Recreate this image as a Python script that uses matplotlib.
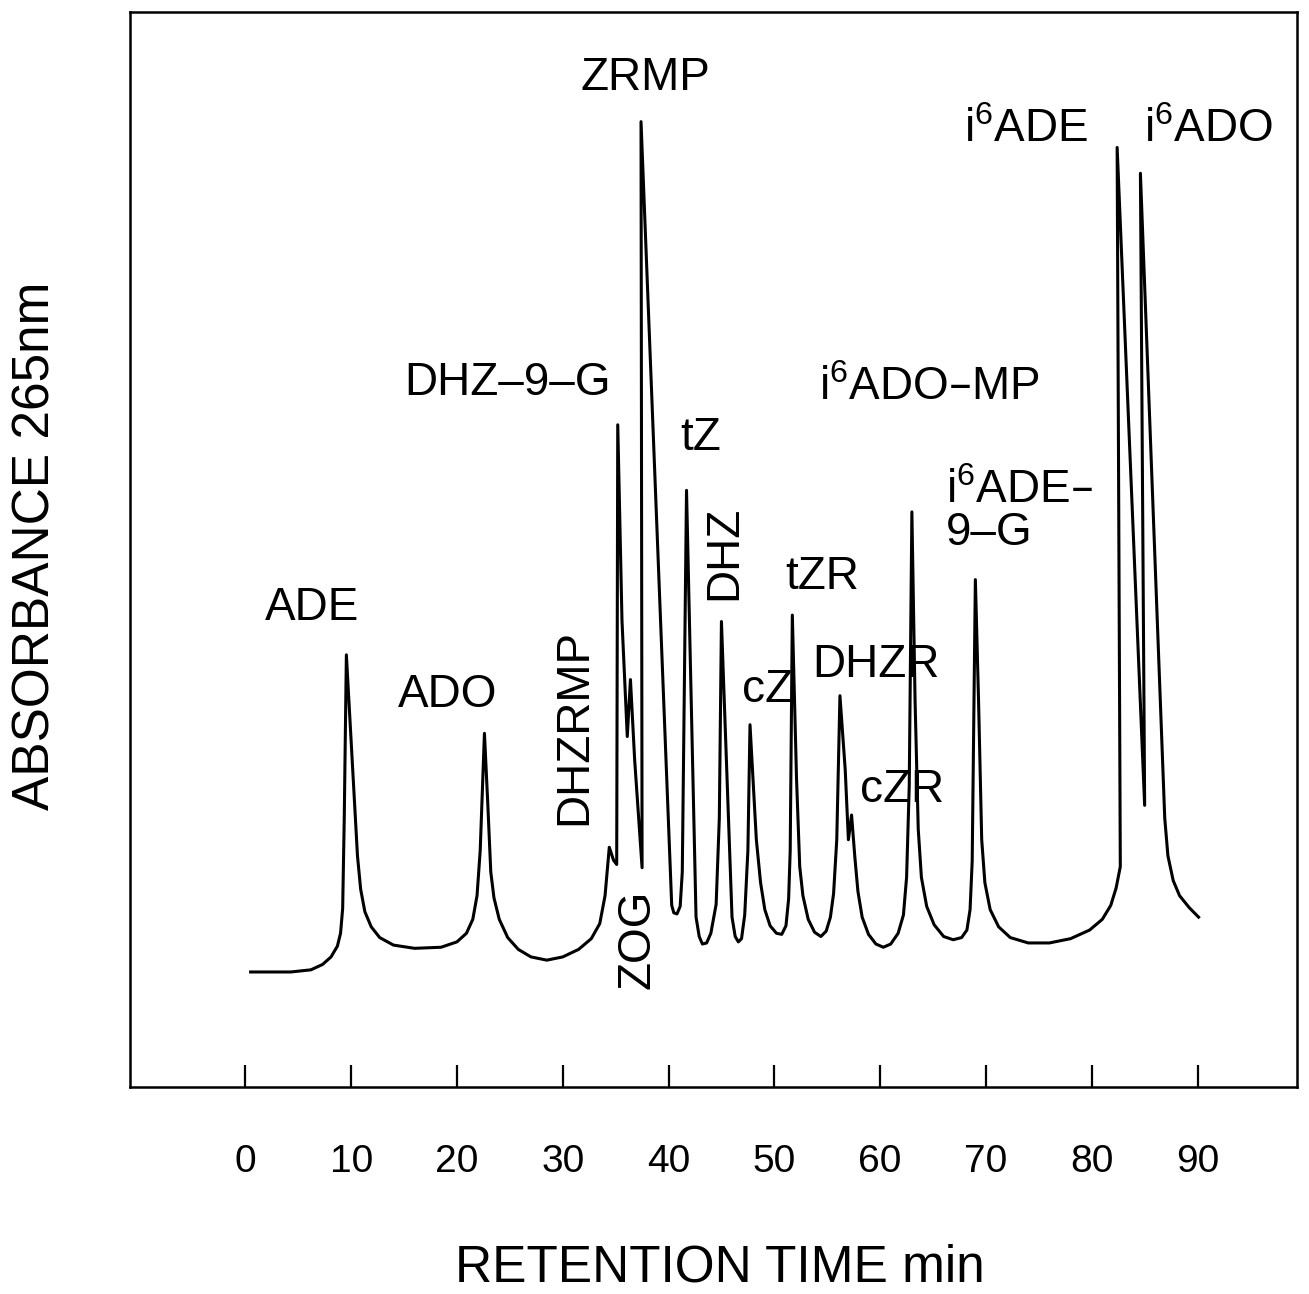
import numpy as np
import matplotlib.pyplot as plt

plt.rcParams['font.family'] = ['Liberation Sans', 'DejaVu Sans']
plt.rcParams['mathtext.default'] = 'regular'

# chromatogram trace (time in min, absorbance in arbitrary units)
time_min = [0.5, 4.3, 6.2, 7.3, 8.1, 8.7, 9.0, 9.2, 9.35, 9.55,
            10.1, 10.6, 10.9, 11.3, 11.9, 12.7, 14.0, 16.0, 18.5, 20.0, 20.9, 21.5, 21.9, 22.2, 22.6,
            22.9, 23.2, 23.5, 24.0, 24.8, 25.8, 27.0, 28.5, 30.0, 31.5, 32.7, 33.5, 34.0, 34.4,
            34.8, 35.1, 35.2, 35.6, 36.1, 36.4, 36.8, 37.5, 37.4,
            40.3, 40.5, 40.8, 41.1, 41.3, 41.7,
            42.6, 42.9, 43.2, 43.6, 44.0, 44.5, 44.8, 45.0,
            46.0, 46.3, 46.6, 46.9, 47.2, 47.5, 47.7,
            48.3, 48.7, 49.1, 49.6, 50.2, 50.7, 51.1, 51.35, 51.5, 51.7,
            52.1, 52.4, 52.7, 53.2, 53.8, 54.4, 54.9, 55.3, 55.6, 55.9, 56.2,
            56.7, 57.0, 57.3, 57.6, 57.9, 58.3, 58.9, 59.6, 60.3, 61.0, 61.7, 62.2, 62.5, 62.75, 63.0,
            63.3, 63.6, 63.9, 64.4, 65.1, 66.0, 66.9, 67.7, 68.2, 68.5, 68.7, 69.0,
            69.3, 69.6, 69.9, 70.4, 71.2, 72.3, 74.0, 76.0, 78.0, 79.8, 81.0, 81.8, 82.3, 82.7,
            82.4, 85.0, 84.6,
            86.6, 86.9, 87.2, 87.7, 88.3, 89.2, 90.1]
absorbance = [10.7, 10.7, 10.9, 11.4, 12.1, 13.1, 14.3, 16.6, 25.0, 40.2,
              30.4, 21.5, 18.4, 16.3, 14.9, 13.9, 13.2, 12.9, 13.0, 13.5, 14.3, 15.6, 17.8, 22.0, 32.9,
              26.7, 20.0, 17.6, 15.6, 13.9, 12.8, 12.1, 11.8, 12.1, 12.8, 13.8, 15.2, 17.8, 22.3,
              21.1, 20.7, 61.6, 43.4, 32.6, 37.9, 30.4, 20.4, 89.8,
              16.9, 16.2, 16.1, 16.8, 20.0, 55.5,
              15.8, 14.0, 13.3, 13.4, 14.3, 17.0, 25.0, 43.3,
              15.8, 14.0, 13.5, 13.8, 16.0, 22.0, 33.7,
              23.0, 19.0, 16.5, 15.0, 14.3, 14.2, 15.0, 17.5, 22.0, 43.9,
              28.6, 20.5, 17.8, 15.6, 14.4, 14.0, 14.5, 15.8, 18.0, 23.0, 36.4,
              29.5, 23.0, 25.3, 21.5, 18.2, 15.8, 14.2, 13.3, 13.0, 13.3, 14.3, 16.0, 19.5, 28.0, 53.5,
              36.0, 24.0, 19.5, 16.8, 15.1, 14.0, 13.7, 13.9, 14.6, 16.5, 21.0, 47.2,
              36.0, 23.0, 19.0, 16.5, 14.9, 13.9, 13.4, 13.4, 13.8, 14.6, 15.6, 16.9, 18.5, 20.5,
              87.4, 26.2, 85.0,
              33.0, 25.0, 21.5, 19.2, 17.8, 16.7, 15.8]

# peak names and where they are written
peak_names = ['ADE', 'ADO', 'DHZ–9–G', 'ZRMP', 'tZ', 'cZ', 'tZR', 'DHZR', 'cZR',
              'i$^{6}$ADO–MP', 'i$^{6}$ADE', 'i$^{6}$ADO']
name_t = [6.3, 19.1, 24.8, 37.8, 43.0, 49.4, 54.5, 59.6, 62.1, 64.6, 73.8, 91.0]
name_a = [44.6, 36.5, 65.5, 93.9, 60.4, 36.9, 47.4, 39.3, 27.6, 65.0, 89.0, 89.0]

vert_names = ['DHZ', 'DHZRMP', 'ZOG']
vert_t = [45.3, 31.1, 37.1]
vert_a = [49.7, 33.5, 13.7]

time_ticks = [0, 10, 20, 30, 40, 50, 60, 70, 80, 90]

fig = plt.figure(figsize=(13.09, 12.94), dpi=100)
ax = fig.add_axes([130 / 1309, 207 / 1294, 1167 / 1309, 1075 / 1294])

ax.plot(time_min, absorbance, color='black', lw=2.2, solid_joinstyle='round')

for name, t, a in zip(peak_names, name_t, name_a):
    ax.text(t, a, name, fontsize=33, ha='center', va='center')
for name, t, a in zip(vert_names, vert_t, vert_a):
    ax.text(t, a, name, fontsize=33, ha='center', va='center', rotation=90)
ax.text(66.2, 53.5, 'i$^{6}$ADE–\n9–G', fontsize=33, ha='left', va='center',
        linespacing=0.95)

ax.set_xlim(-10.9, 99.4)
ax.set_ylim(0, 100)
ax.set_xticks(time_ticks)
ax.set_yticks([])
ax.tick_params(axis='x', direction='in', length=16, width=1.6, pad=41, labelsize=28)
for s in ax.spines.values():
    s.set_linewidth(1.8)

fig.text(720 / 1309, 1 - 1268 / 1294, 'RETENTION TIME min', fontsize=37,
         ha='center', va='center')
fig.text(36 / 1309, 1 - 546 / 1294, 'ABSORBANCE 265nm', fontsize=37,
         ha='center', va='center', rotation=90)

fig.savefig('out.png', dpi=100)
